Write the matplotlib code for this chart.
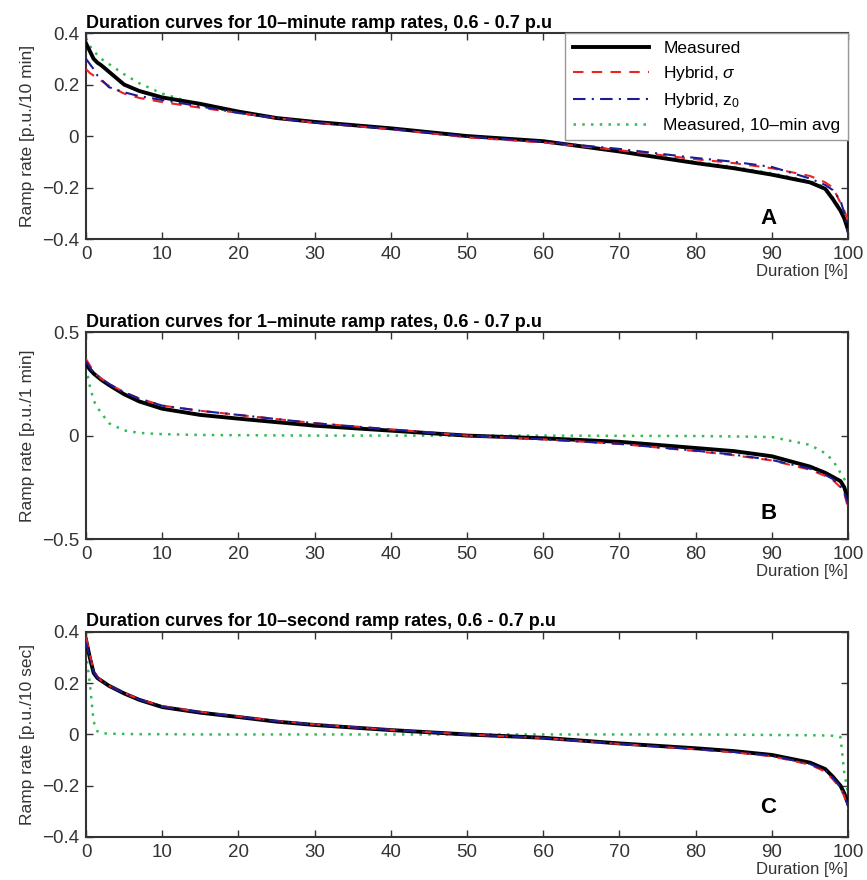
import matplotlib.pyplot as plt

plt.rcParams['font.family'] = ['Liberation Sans', 'DejaVu Sans']
plt.rcParams['mathtext.fontset'] = 'custom'
plt.rcParams['mathtext.rm'] = 'Liberation Sans'
plt.rcParams['mathtext.it'] = 'Liberation Sans:italic'

# duration axis [%] shared by all curves
duration = [0, 0.5, 1, 1.5, 2, 3, 5, 7, 10, 15, 20, 25, 30, 40, 50,
            60, 70, 80, 85, 90, 95, 97, 98, 99, 99.5, 100]

# 10-minute ramp rates
meas_10min = [0.36, 0.33, 0.30, 0.285, 0.275, 0.25, 0.20, 0.175, 0.15, 0.125, 0.095, 0.07, 0.055,
              0.03, 0.0, -0.02, -0.06, -0.105, -0.125, -0.15, -0.18, -0.205, -0.245, -0.29, -0.32, -0.365]
sigma_10min = [0.26, 0.245, 0.235, 0.225, 0.215, 0.195, 0.165, 0.148, 0.132, 0.11, 0.09, 0.07, 0.052,
               0.027, -0.005, -0.025, -0.055, -0.09, -0.105, -0.125, -0.155, -0.18, -0.2, -0.26, -0.29, -0.33]
z0_10min = [0.30, 0.28, 0.26, 0.235, 0.22, 0.19, 0.17, 0.155, 0.14, 0.115, 0.09, 0.07, 0.052,
            0.028, -0.002, -0.022, -0.05, -0.085, -0.1, -0.12, -0.165, -0.19, -0.21, -0.25, -0.3, -0.38]
avg_10min = [0.38, 0.35, 0.33, 0.315, 0.30, 0.28, 0.24, 0.205, 0.165, 0.12, 0.09, 0.07, 0.055,
             0.03, 0.0, -0.02, -0.058, -0.1, -0.12, -0.145, -0.175, -0.2, -0.24, -0.285, -0.32, -0.36]

# 1-minute ramp rates
meas_1min = [0.35, 0.32, 0.30, 0.285, 0.27, 0.245, 0.2, 0.165, 0.13, 0.1, 0.082, 0.065, 0.048,
             0.024, 0.0, -0.013, -0.03, -0.06, -0.075, -0.1, -0.15, -0.18, -0.2, -0.22, -0.25, -0.31]
sigma_1min = [0.37, 0.34, 0.31, 0.29, 0.275, 0.25, 0.21, 0.18, 0.145, 0.12, 0.1, 0.08, 0.06,
              0.03, 0.0, -0.018, -0.04, -0.075, -0.095, -0.12, -0.165, -0.195, -0.215, -0.25, -0.28, -0.35]
z0_1min = [0.36, 0.33, 0.305, 0.29, 0.275, 0.25, 0.21, 0.178, 0.145, 0.12, 0.1, 0.08, 0.06,
           0.03, 0.0, -0.018, -0.04, -0.073, -0.092, -0.118, -0.16, -0.19, -0.21, -0.245, -0.275, -0.33]
avg_1min = [0.33, 0.24, 0.17, 0.135, 0.11, 0.06, 0.025, 0.013, 0.007, 0.003, 0.002, 0.001, 0.0,
            0.0, 0.0, 0.0, -0.001, -0.002, -0.004, -0.007, -0.045, -0.085, -0.12, -0.18, -0.21, -0.24]

# 10-second ramp rates
meas_10s = [0.37, 0.3, 0.24, 0.22, 0.21, 0.19, 0.16, 0.135, 0.107, 0.085, 0.068, 0.05, 0.037,
            0.017, 0.0, -0.013, -0.035, -0.054, -0.065, -0.08, -0.11, -0.135, -0.165, -0.2, -0.23, -0.27]
sigma_10s = [0.38, 0.31, 0.25, 0.225, 0.21, 0.19, 0.162, 0.137, 0.11, 0.088, 0.07, 0.053, 0.039,
             0.018, 0.0, -0.014, -0.037, -0.058, -0.07, -0.085, -0.118, -0.145, -0.175, -0.21, -0.24, -0.29]
z0_10s = [0.36, 0.3, 0.245, 0.222, 0.21, 0.19, 0.161, 0.136, 0.108, 0.087, 0.069, 0.052, 0.038,
          0.018, 0.0, -0.014, -0.036, -0.057, -0.068, -0.083, -0.115, -0.14, -0.17, -0.205, -0.235, -0.28]
avg_10s = [0.32, 0.2, 0.05, 0.012, 0.005, 0.003, 0.002, 0.001, 0.001, 0.0, 0.0, 0.0, 0.0,
           0.0, 0.0, 0.0, 0.0, 0.0, -0.001, -0.002, -0.003, -0.004, -0.005, -0.01, -0.15, -0.23]

panels = [
    ('Duration curves for 10\u2013minute ramp rates, 0.6 - 0.7 p.u', 'Ramp rate [p.u./10 min]',
     (-0.4, 0.4), [-0.4, -0.2, 0, 0.2, 0.4], ['\u22120.4', '\u22120.2', '0', '0.2', '0.4'], 'A',
     meas_10min, sigma_10min, z0_10min, avg_10min),
    ('Duration curves for 1\u2013minute ramp rates, 0.6 - 0.7 p.u', 'Ramp rate [p.u./1 min]',
     (-0.5, 0.5), [-0.5, 0, 0.5], ['\u22120.5', '0', '0.5'], 'B',
     meas_1min, sigma_1min, z0_1min, avg_1min),
    ('Duration curves for 10\u2013second ramp rates, 0.6 - 0.7 p.u', 'Ramp rate [p.u./10 sec]',
     (-0.4, 0.4), [-0.4, -0.2, 0, 0.2, 0.4], ['\u22120.4', '\u22120.2', '0', '0.2', '0.4'], 'C',
     meas_10s, sigma_10s, z0_10s, avg_10s),
]

fig = plt.figure(figsize=(8.67, 8.8), dpi=100)
boxes = [[0.0992, 0.7284, 0.879, 0.234],
         [0.0992, 0.3875, 0.879, 0.235],
         [0.0992, 0.0489, 0.879, 0.233]]
letter_y = [0.10, 0.125, 0.145]

for i, (title, ylab, ylim, yt, ytl, letter, meas, sig, z0, avg) in enumerate(panels):
    ax = fig.add_axes(boxes[i])
    ax.plot(duration, avg, color='#33bb55', linestyle=(0, (1, 2.5)), linewidth=1.8,
            label='Measured, 10\u2013min avg', zorder=2)
    ax.plot(duration, meas, color='black', linewidth=2.8, label='Measured', zorder=3)
    ax.plot(duration, sig, color='#ee2222', linestyle=(0, (5, 4)), linewidth=1.5,
            label='Hybrid, $\\sigma$', zorder=4)
    ax.plot(duration, z0, color='#1c1c99', linestyle=(0, (6, 3, 1, 3)), linewidth=1.5,
            label='Hybrid, z$_0$', zorder=4)

    ax.set_xlim(0, 100)
    ax.set_ylim(*ylim)
    ax.set_xticks(range(0, 101, 10))
    ax.set_yticks(yt)
    ax.set_yticklabels(ytl)
    ax.tick_params(direction='in', top=True, right=True, length=5, width=1,
                   labelsize=13.5, colors='#333333', pad=5)
    for s in ax.spines.values():
        s.set_color('#333333')
        s.set_linewidth(1.5)

    ax.set_title(title, loc='left', fontsize=13, fontweight='bold', pad=4)
    ax.set_ylabel(ylab, fontsize=12.5, color='#333333', labelpad=5)
    ax.set_xlabel('Duration [%]', fontsize=12, color='#333333', loc='right', labelpad=1)
    ax.text(0.895, letter_y[i], letter, transform=ax.transAxes, fontsize=16,
            fontweight='bold', ha='center', va='center')

    if i == 0:
        h, l = ax.get_legend_handles_labels()
        order = [1, 2, 3, 0]
        ax.legend([h[k] for k in order], [l[k] for k in order], loc='upper right',
                  fontsize=12.5, borderaxespad=0, fancybox=False, edgecolor='#999999',
                  handlelength=4.4, labelspacing=0.45, borderpad=0.45, framealpha=1)

fig.savefig('out.png', dpi=100)
